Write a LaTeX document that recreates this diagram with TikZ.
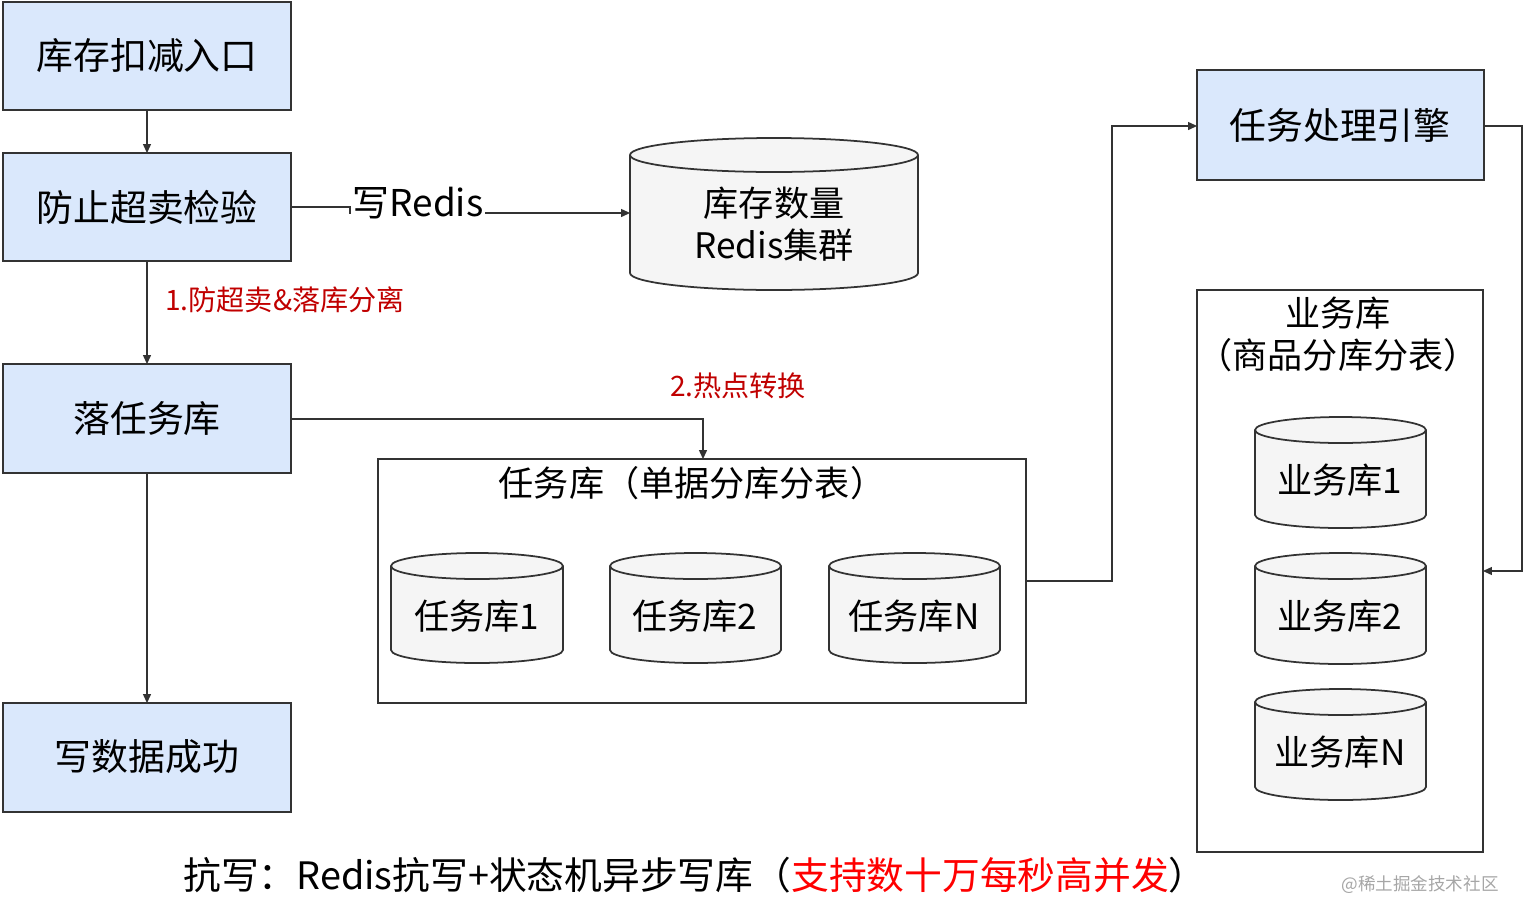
\documentclass[tikz,border=0pt]{standalone}
\usepackage{fontspec}
\setmainfont{Noto Sans CJK SC}
\usetikzlibrary{arrows.meta}
\definecolor{boxblue}{HTML}{DAE8FC}
\definecolor{cylfill}{HTML}{F5F5F5}
\definecolor{edge}{HTML}{333333}
\definecolor{lblred}{HTML}{C00000}
\newcommand\mycyl[6]{% x1 x2 yt yb r name
 \pgfmathsetmacro\cx{(#1+#2)/2}\pgfmathsetmacro\rx{(#2-#1)/2}
 \pgfmathsetmacro\ya{#3+#5}\pgfmathsetmacro\yb{#4-#5}
 \pgfmathsetmacro\kr{0.552*#5}\pgfmathsetmacro\kx{0.552*\rx}
 \draw[cyl] (#1,\ya) -- (#1,\yb) .. controls (#1,\yb+\kr) and (\cx-\kx,\yb+#5) .. (\cx,\yb+#5)
   .. controls (\cx+\kx,\yb+#5) and (#2,\yb+\kr) .. (#2,\yb) -- (#2,\ya)
   .. controls (#2,\ya-\kr) and (\cx+\kx,\ya-#5) .. (\cx,\ya-#5)
   .. controls (\cx-\kx,\ya-#5) and (#1,\ya-\kr) .. (#1,\ya) -- cycle;
 \draw[cylline] (#1,\ya) .. controls (#1,\ya+\kr) and (\cx-\kx,\ya+#5) .. (\cx,\ya+#5)
   .. controls (\cx+\kx,\ya+#5) and (#2,\ya+\kr) .. (#2,\ya);
 \coordinate (#6) at (\cx,{(#3+#4)/2});
}
\begin{document}
\begin{tikzpicture}[x=0.02cm,y=-0.02cm,
  bluebox/.style={draw=edge,line width=1pt,fill=boxblue},
  frame/.style={draw=edge,line width=1pt},
  cyl/.style={draw=edge,line width=1pt,fill=cylfill},
  cylline/.style={draw=edge,line width=1pt},
  txt/.style={font=\fontsize{21pt}{25pt}\selectfont,inner sep=0pt},
  ctxt/.style={font=\fontsize{20pt}{24pt}\selectfont,inner sep=0pt,align=center},
  red/.style={font=\fontsize{16pt}{19pt}\selectfont,text=lblred,inner sep=0pt},
  conn/.style={draw=edge,line width=0.6pt,-{Triangle[length=5pt,width=4.5pt]}},
  plain/.style={draw=edge,line width=0.6pt}]
\useasboundingbox (0,0) rectangle (1525,920);
% left boxes
\draw[bluebox] (3,2) rectangle (291,110);
\node[txt] (entry) at (147,56) {库存扣减入口};
\draw[bluebox] (3,153) rectangle (291,261);
\node[txt] (check) at (147,207) {防止超卖检验};
\draw[bluebox] (3,364) rectangle (291,473);
\node[txt] (task) at (147,419) {落任务库};
\draw[bluebox] (3,703) rectangle (291,812);
\node[txt] (ok) at (147,757) {写数据成功};
\coordinate (entryS) at (147,110); \coordinate (checkN) at (147,153);
\coordinate (checkE) at (291,207); \coordinate (checkS) at (147,261);
\coordinate (taskN) at (147,364); \coordinate (taskE) at (291,419);
\coordinate (taskS) at (147,473); \coordinate (okN) at (147,703);
% redis
\mycyl{630}{918}{138}{290}{17}{redis}
\node[ctxt] (redist) at (774,224) {库存数量\\Redis集群};
\coordinate (redisW) at (630,213);
% task db frame
\draw[frame] (378,459) rectangle (1026,703);
\node[ctxt] (tasktitle) at (692,483) {任务库（单据分库分表）};
\coordinate (tdbN) at (703,459); \coordinate (tdbE) at (1026,581);
\mycyl{391}{563}{553}{663}{13}{t1}\node[ctxt] at (477,616) {任务库1};
\mycyl{610}{781}{553}{663}{13}{t2}\node[ctxt] at (695,616) {任务库2};
\mycyl{829}{1000}{553}{663}{13}{tn}\node[ctxt] at (914,616) {任务库N};
% engine
\draw[bluebox] (1197,70) rectangle (1484,180);
\node[txt] (engine) at (1340,125) {任务处理引擎};
\coordinate (engW) at (1197,126); \coordinate (engE) at (1484,126);
% business frame
\draw[frame] (1197,290) rectangle (1483,852);
\node[ctxt] (bustitle) at (1338,334) {业务库\\（商品分库分表）};
\coordinate (busE) at (1483,571);
\mycyl{1255}{1426}{417}{528}{13}{b1}\node[ctxt] at (1340,480) {业务库1};
\mycyl{1255}{1426}{553}{664}{13}{b2}\node[ctxt] at (1340,616) {业务库2};
\mycyl{1255}{1426}{689}{800}{13}{bn}\node[ctxt] at (1340,752) {业务库N};
% connectors
\draw[conn] (entryS) -- (checkN);
\draw[conn] (checkE) -- (350,207) -- (350,213) -- (redisW);
\node[txt,fill=white,inner sep=1pt] (wr) at (418,203) {写Redis};
\draw[conn] (checkS) -- (taskN);
\node[red] (l1) at (285,300) {1.防超卖\&落库分离};
\draw[conn] (taskE) -| (tdbN);
\node[red] (l2) at (738,386) {2.热点转换};
\draw[conn] (taskS) -- (okN);
\draw[conn] (tdbE) -- (1112,581) |- (engW);
\draw[conn] (engE) -- (1522,126) |- (busE);
% bottom
\node[inner sep=0pt,font=\fontsize{21.5pt}{25pt}\selectfont] (foot) at (695,875)
 {抗写：Redis抗写+状态机异步写库（\textcolor{red}{支持数十万每秒高并发}）};
\node[inner sep=0pt,font=\fontsize{10pt}{12pt}\selectfont,text=gray!70] (wm) at (1420,885) {@稀土掘金技术社区};
\end{tikzpicture}
\end{document}
